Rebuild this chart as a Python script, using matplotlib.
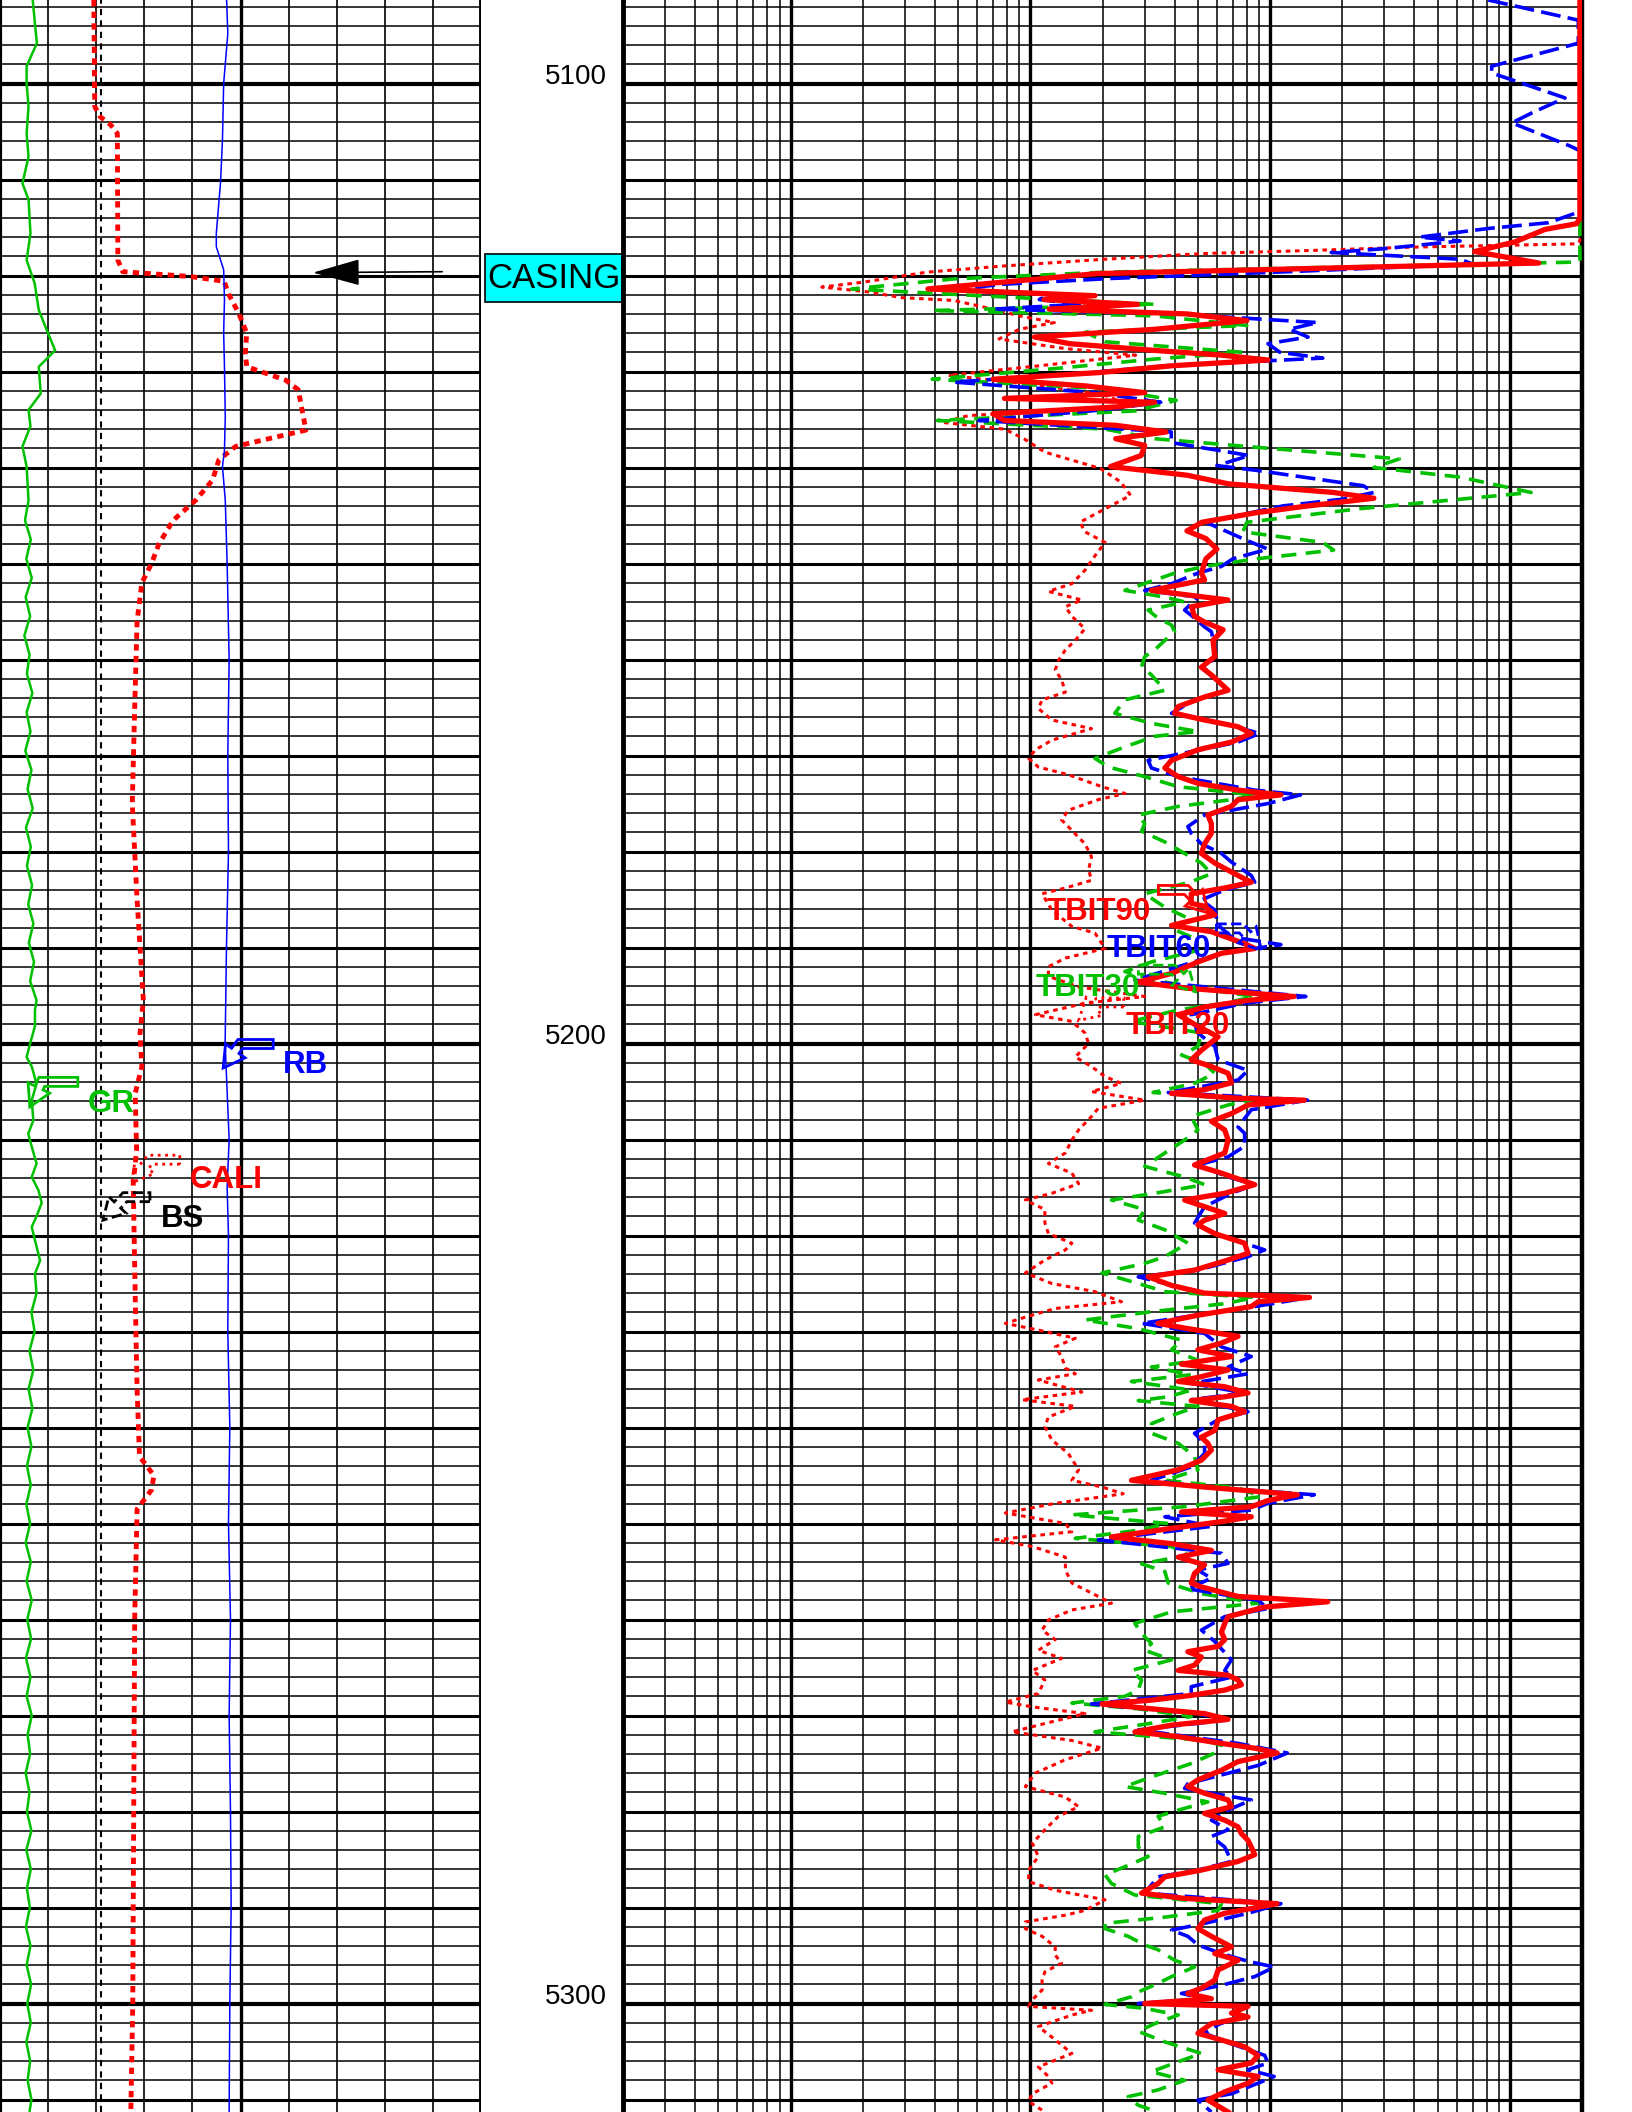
"""Resistivity log plot: GR/CALI/BS/RB track, depth track, TBIT array resistivity track."""
import numpy as np
import matplotlib
matplotlib.use('Agg')
import matplotlib.pyplot as plt
from matplotlib.patches import Polygon, Rectangle
from matplotlib.transforms import IdentityTransform

plt.rcParams['font.family'] = ['Liberation Sans', 'DejaVu Sans']

TOP, BOTTOM = 5091.3, 5311.3
DEPTH_LABELS = [5100, 5200, 5300]
BIT_SIZE = 8.1

# track 1 curves: (depth ft, value)
GR = [(5091.3, 10.2), (5093.4, 10.8), (5095.8, 11.5), (5098.2, 8.3), (5100.0, 8.3),
      (5102.4, 8.9), (5105.2, 8.3), (5107.6, 8.9), (5110.4, 7.0), (5112.1, 8.9),
      (5115.6, 9.5), (5118.4, 8.3), (5120.8, 10.8), (5123.6, 12.1), (5125.7, 14.6),
      (5127.8, 17.2), (5129.5, 12.1), (5132.3, 12.7), (5134.0, 8.9), (5135.7, 9.5),
      (5137.8, 7.0), (5139.9, 8.3), (5143.4, 8.9), (5145.5, 7.8), (5147.5, 9.6),
      (5149.5, 8.2), (5151.5, 9.9), (5153.5, 8.0), (5155.5, 9.4), (5157.5, 7.6),
      (5159.5, 9.2), (5161.5, 8.4), (5163.5, 10.1), (5165.5, 8.3), (5167.5, 9.5),
      (5169.5, 7.9), (5171.5, 9.8), (5173.5, 8.6), (5175.5, 10.2), (5177.5, 8.1),
      (5179.5, 9.6), (5181.5, 8.4), (5183.5, 10.0), (5185.5, 8.8), (5187.5, 10.4),
      (5189.5, 9.0), (5191.5, 10.6), (5193.5, 9.4), (5195.5, 11.4), (5196.5, 10.9),
      (5198.2, 10.9), (5200.0, 9.4), (5201.4, 8.3), (5202.4, 9.9), (5204.2, 11.4),
      (5205.9, 9.9), (5208.0, 10.4), (5209.4, 8.8), (5210.75, 9.9), (5212.5, 11.4),
      (5213.9, 9.9), (5215.3, 12.0), (5216.6, 13.0), (5218.0, 11.4), (5219.1, 9.9),
      (5220.5, 10.9), (5222.6, 12.5), (5224.0, 10.9), (5226.0, 11.4), (5228.0, 9.8),
      (5230.0, 10.8), (5232.0, 9.2), (5234.0, 10.4), (5236.0, 8.9), (5238.0, 10.1),
      (5240.0, 8.6), (5242.0, 9.8), (5244.0, 8.4), (5246.0, 9.6), (5248.0, 8.2),
      (5250.0, 9.4), (5252.0, 8.0), (5254.0, 9.6), (5256.0, 8.3), (5258.0, 9.9),
      (5260.0, 8.5), (5262.0, 9.7), (5264.0, 8.1), (5266.0, 9.5), (5268.0, 8.3),
      (5270.0, 9.9), (5272.0, 8.6), (5274.0, 9.4), (5276.0, 8.0), (5278.0, 9.2),
      (5280.0, 8.4), (5282.0, 9.8), (5284.0, 8.2), (5286.0, 9.6), (5288.0, 8.4),
      (5290.0, 9.3), (5292.0, 8.1), (5294.0, 9.5), (5296.0, 8.3), (5298.0, 9.7),
      (5300.0, 8.5), (5302.0, 9.6), (5304.0, 8.2), (5306.0, 9.4), (5308.0, 8.6),
      (5310.0, 9.8), (5311.3, 9.2)]
CALI = [(5091.3, 7.95), (5102.4, 7.97), (5103.45, 8.08), (5104.3, 8.3), (5105.2, 8.44),
        (5118.4, 8.45), (5119.6, 8.55), (5120.1, 9.95), (5120.6, 10.66), (5121.9, 10.75),
        (5123.9, 10.96), (5126.0, 11.13), (5128.1, 11.1), (5129.5, 11.13), (5130.9, 11.94),
        (5131.9, 12.2), (5134.0, 12.28), (5136.1, 12.36), (5137.1, 11.5), (5137.8, 10.9),
        (5139.2, 10.55), (5141.3, 10.42), (5143.4, 10.07), (5145.5, 9.6), (5148.0, 9.3),
        (5150.0, 9.15), (5152.0, 8.95), (5156.0, 8.85), (5165.0, 8.8), (5175.0, 8.75),
        (5185.0, 8.85), (5195.5, 8.98), (5199.0, 8.91), (5202.4, 8.95), (5205.2, 8.81),
        (5211.1, 8.84), (5214.6, 8.77), (5226.0, 8.81), (5236.0, 8.85), (5243.0, 8.9),
        (5245.0, 9.2), (5246.5, 9.15), (5248.5, 8.85), (5260.0, 8.8), (5280.0, 8.78),
        (5300.0, 8.76), (5311.3, 8.72)]
RB = [(5091.3, 169.6), (5094.8, 170.5), (5100.0, 167.4), (5105.9, 166.5), (5110.4, 165.0),
      (5115.6, 161.9), (5117.0, 161.9), (5119.4, 167.4), (5122.5, 168.0), (5126.0, 167.4),
      (5129.5, 168.0), (5134.7, 168.6), (5138.2, 168.0), (5139.9, 166.5), (5143.4, 168.6),
      (5150.0, 170.0), (5160.0, 171.5), (5170.0, 170.5), (5180.0, 171.0), (5190.0, 169.5),
      (5200.0, 168.5), (5205.0, 170.0), (5210.0, 171.5), (5215.0, 170.0), (5220.0, 171.0),
      (5230.0, 170.5), (5240.0, 172.0), (5250.0, 171.0), (5260.0, 172.5), (5270.0, 171.5),
      (5280.0, 172.5), (5290.0, 173.0), (5300.0, 172.0), (5311.3, 171.5)]

# track 2 array resistivity, ohm.m
TBIT90 = [(5091.3, 1960), (5114.0, 1960), (5114.6, 1900), (5115.2, 1400), (5116.5, 1050),
          (5117.5, 714), (5118.7, 1320), (5119.8, 19), (5121.4, 3.74), (5122.1, 18.6),
          (5122.5, 11.4), (5123.0, 28), (5123.5, 12), (5124.0, 45), (5124.7, 80),
          (5125.6, 33), (5126.4, 10.4), (5127.1, 14.6), (5127.8, 33), (5128.3, 63),
          (5128.8, 98), (5129.4, 39), (5130.1, 19.6), (5130.8, 7.0), (5131.5, 17),
          (5132.2, 30), (5132.8, 7.8), (5133.2, 33), (5133.7, 22.7), (5134.4, 7.0),
          (5135.1, 7.8), (5135.6, 22.7), (5136.3, 36.8), (5137.0, 22.7), (5137.7, 30),
          (5138.75, 29), (5139.9, 21.6), (5140.8, 45), (5141.7, 67), (5142.6, 184),
          (5143.2, 271), (5144.0, 144), (5144.7, 88), (5145.7, 52), (5146.6, 45),
          (5147.4, 54), (5148.5, 60), (5149.5, 54), (5151.0, 51.7), (5151.7, 53.3),
          (5152.8, 32), (5153.8, 66.7), (5154.5, 47), (5155.5, 48.4), (5156.1, 53.3),
          (5156.9, 63.7), (5158.0, 57.8), (5159.7, 58.8), (5160.8, 51.7), (5161.6, 56.9),
          (5163.2, 66.8), (5163.9, 53.3), (5164.9, 41.4), (5165.6, 40.0), (5166.3, 53.3),
          (5167.0, 73.5), (5167.7, 83.5), (5168.6, 69.0), (5169.4, 50.0), (5170.5, 38.8),
          (5171.3, 36.4), (5172.2, 41.4), (5172.9, 50.0), (5173.6, 73.5), (5174.1, 111),
          (5174.6, 73.5), (5175.3, 69), (5176.2, 55), (5177.1, 56.9), (5178.1, 56.9),
          (5179.2, 53.3), (5180.2, 51.7), (5181.2, 58.8), (5182.5, 73.5), (5183.2, 83.5),
          (5183.8, 64.7), (5184.4, 46.9), (5185.4, 46.9), (5185.7, 53.3), (5186.6, 58.8),
          (5187.7, 38.8), (5188.35, 56.9), (5189.6, 78.3), (5190.1, 86.3), (5190.6, 62.7),
          (5191.5, 50.0), (5192.7, 38.8), (5193.6, 28.2), (5194.25, 45.4), (5195.1, 126),
          (5195.5, 80.9), (5196.2, 53.3), (5197.0, 41.4), (5198.2, 50.0), (5199.3, 60.7),
          (5200.7, 51.7), (5201.7, 46.9), (5202.4, 56.9), (5203.1, 66.8), (5204.1, 69),
          (5204.8, 53.3), (5205.2, 38.8), (5205.7, 73.5), (5205.9, 139), (5206.4, 80.9),
          (5207.3, 69), (5208.1, 56.9), (5209.0, 64.7), (5210.05, 66.8), (5211.4, 64.7),
          (5212.65, 48.4), (5213.5, 62.7), (5214.7, 86.3), (5215.6, 64.7), (5216.3, 44.0),
          (5217.0, 53.3), (5217.7, 64.7), (5218.4, 53.3), (5218.9, 50), (5219.8, 58.8),
          (5220.8, 78.3), (5221.85, 80.9), (5222.55, 66.8), (5223.6, 48.4), (5224.3, 31),
          (5225.2, 38.8), (5226.0, 53.3), (5226.45, 146), (5226.9, 89.1), (5227.4, 83.5),
          (5228.3, 50), (5229.15, 34.1), (5229.7, 45.4), (5230.5, 73.5), (5231.2, 62.7),
          (5231.9, 50), (5232.6, 69), (5233.4, 42.7), (5234.0, 66.8), (5234.7, 51.7),
          (5235.2, 41.4), (5235.75, 64.7), (5236.4, 80.9), (5236.8, 64.7), (5237.2, 46.9),
          (5237.8, 69), (5238.35, 78.3), (5239.2, 60.7), (5240.3, 58.8), (5241.0, 51.7),
          (5241.65, 55), (5242.35, 56.9), (5243.4, 51.7), (5244.4, 41.4), (5245.5, 26.4),
          (5246.2, 53.3), (5247.0, 130), (5247.6, 98.1), (5248.25, 83.5), (5248.8, 42.7),
          (5249.3, 83.5), (5249.8, 62.7), (5250.5, 38.8), (5251.4, 21.8), (5252.1, 38.8),
          (5252.8, 56.9), (5253.5, 41.4), (5254.3, 53.3), (5255.2, 48.4), (5256.2, 46.9),
          (5256.6, 51.7), (5257.6, 73.5), (5258.15, 174), (5258.7, 95), (5259.7, 66.8),
          (5260.4, 64.7), (5261.3, 62.7), (5262.1, 64.7), (5262.8, 60.7), (5263.35, 45.4),
          (5263.9, 51.7), (5264.75, 48.4), (5265.3, 41.4), (5265.8, 66.8), (5266.3, 73.5),
          (5266.8, 75.9), (5267.35, 64.7), (5267.9, 46.9), (5268.4, 32), (5268.8, 19.9),
          (5269.3, 32), (5269.8, 53.3), (5270.4, 66.8), (5271.0, 38.8), (5271.7, 27.3),
          (5272.2, 41.4), (5272.9, 62.7), (5273.4, 86.3), (5273.9, 107), (5274.8, 73.5),
          (5275.7, 62.7), (5276.7, 50), (5277.4, 45.4), (5278.1, 53.3), (5278.8, 66.8),
          (5279.5, 69), (5280.2, 53.3), (5280.9, 64.7), (5281.6, 73.5), (5282.3, 75.9),
          (5283.0, 80.9), (5283.7, 83.5), (5284.5, 86.3), (5285.2, 73.5), (5286.1, 51.7),
          (5286.8, 36.4), (5287.5, 34.1), (5288.5, 29.1), (5289.05, 44), (5289.6, 107),
          (5290.1, 83.5), (5290.6, 64.7), (5291.3, 53.3), (5292.2, 50), (5293.0, 56.9),
          (5294.1, 69), (5294.8, 58.8), (5295.5, 73.5), (5296.5, 60.7), (5297.55, 58.8),
          (5298.4, 51.7), (5298.95, 45.4), (5299.5, 56.9), (5300.0, 30), (5300.3, 80.9),
          (5301.0, 69), (5301.4, 80.9), (5302.1, 56.9), (5303.1, 50), (5303.8, 62.7),
          (5304.5, 78.3), (5305.4, 89.1), (5306.2, 83.5), (5306.9, 60.7), (5307.6, 89.1),
          (5308.3, 80.9), (5309.2, 64.7), (5310.05, 55), (5311.3, 66.8)]
TBIT60 = [(5091.3, 813), (5093.4, 1930), (5095.8, 1930), (5098.2, 840), (5098.9, 840),
          (5101.5, 1700), (5103.0, 1250), (5104.1, 1020), (5106.5, 1780), (5107.0, 1960),
          (5113.0, 1960), (5113.4, 1930), (5114.5, 1450), (5115.1, 813), (5116.0, 420),
          (5116.4, 620), (5117.2, 300), (5117.6, 180), (5118.3, 620), (5118.8, 700),
          (5119.6, 120), (5120.3, 22), (5120.9, 7.8), (5121.4, 5.0), (5122.0, 12),
          (5122.5, 10.9), (5123.0, 16), (5123.5, 7.0), (5124.0, 40), (5124.9, 158),
          (5125.6, 120), (5126.4, 144), (5127.1, 98), (5128.0, 110), (5128.6, 166),
          (5129.4, 37), (5130.1, 18), (5131.1, 4.8), (5132.2, 18.6), (5133.2, 35),
          (5134.0, 20), (5135.1, 6.1), (5136.3, 38.7), (5137.4, 38.7), (5138.75, 82),
          (5139.8, 60), (5140.3, 88), (5141.9, 245), (5142.6, 271), (5143.3, 200),
          (5144.0, 113), (5145.7, 54), (5147.6, 80), (5148.5, 98), (5149.5, 70),
          (5150.3, 62.7), (5151.0, 50), (5152.1, 38.8), (5152.8, 30), (5153.5, 50),
          (5154.85, 44), (5155.4, 46.9), (5156.6, 53.3), (5157.1, 56.9), (5158.7, 58.8),
          (5159.7, 58.8), (5161.1, 53.3), (5163.2, 66.8), (5164.2, 48.4), (5165.6, 38.8),
          (5166.7, 64.7), (5167.7, 90.6), (5168.6, 73.5), (5169.8, 42.7), (5170.5, 31),
          (5171.3, 32), (5172.2, 41.4), (5173.6, 86.3), (5174.1, 134), (5175.0, 98),
          (5176.2, 53.3), (5177.4, 45.4), (5178.1, 46.9), (5179.2, 51.7), (5180.2, 62.7),
          (5181.1, 69), (5182.5, 83.5), (5183.2, 86.3), (5184.0, 64.7), (5185.05, 51.7),
          (5186.1, 58.8), (5187.65, 60.7), (5188.9, 69), (5189.7, 111), (5190.6, 62.7),
          (5192.0, 41.4), (5193.4, 27.3), (5195.1, 141), (5195.8, 78.3), (5197.0, 46.9),
          (5198.9, 50), (5200.3, 58.8), (5201.7, 60.7), (5202.8, 80.9), (5203.8, 73.5),
          (5205.1, 37.6), (5205.9, 143), (5206.9, 83.5), (5208.7, 73.5), (5209.35, 78.3),
          (5210.7, 78.3), (5211.8, 66.8), (5212.65, 50), (5213.9, 66.8), (5214.7, 86.3),
          (5215.6, 69), (5217.0, 53.3), (5218.7, 48.4), (5219.8, 58.8), (5221.5, 95),
          (5222.2, 80.9), (5223.6, 50), (5224.3, 28.2), (5226.0, 53.3), (5226.45, 146),
          (5227.4, 86.3), (5229.15, 29.1), (5230.2, 53.3), (5231.6, 62.7), (5232.6, 83.5),
          (5233.7, 66.8), (5234.4, 80.9), (5235.4, 46.9), (5236.4, 78.3), (5237.1, 46.9),
          (5238.35, 80.9), (5239.2, 60.7), (5240.6, 48.4), (5241.65, 53.3), (5242.7, 53.3),
          (5244.1, 46.9), (5244.8, 38.8), (5245.5, 32), (5246.2, 53.3), (5247.0, 153),
          (5247.9, 98), (5248.6, 83.5), (5249.3, 36.4), (5250.3, 56.9), (5251.7, 19.2),
          (5253.1, 62.7), (5254.15, 66.8), (5254.85, 50), (5255.7, 56.9), (5256.8, 45.4),
          (5258.0, 89.1), (5258.85, 98), (5259.7, 64.7), (5261.1, 51.7), (5262.3, 58.8),
          (5264.2, 69), (5265.3, 64.7), (5266.0, 69), (5267.0, 46.9), (5267.7, 46.9),
          (5268.8, 18), (5269.8, 50), (5270.5, 64.7), (5271.5, 28.2), (5272.9, 73.5),
          (5273.9, 118), (5275.2, 89.1), (5277.1, 45.4), (5277.6, 44), (5278.8, 83.5),
          (5279.85, 66.8), (5280.9, 56.9), (5281.9, 66.8), (5282.6, 56.9), (5283.7, 64.7),
          (5285.2, 69), (5286.1, 50), (5286.8, 34.1), (5288.5, 30), (5289.6, 111),
          (5290.6, 80.9), (5291.65, 53.3), (5292.35, 38.8), (5293.0, 45.4), (5293.9, 50),
          (5294.8, 62.7), (5295.6, 80.9), (5296.2, 104), (5297.2, 86.3), (5298.1, 62.7),
          (5298.95, 42.7), (5299.5, 53.3), (5300.0, 28.2), (5300.3, 73.5), (5301.4, 73.5),
          (5302.2, 60.7), (5303.1, 53.3), (5304.2, 69), (5305.4, 95), (5306.2, 98),
          (5306.9, 80.9), (5307.6, 104), (5308.3, 89.1), (5309.4, 69), (5310.05, 50),
          (5311.3, 56.9)]
TBIT30 = [(5091.3, 1960), (5118.5, 1960), (5118.6, 1900), (5119.65, 20.5), (5120.35, 4.8),
          (5121.4, 1.8), (5122.1, 6.1), (5123.0, 33), (5123.65, 3.9), (5124.2, 33),
          (5125.2, 80), (5125.9, 17), (5126.9, 20.5), (5128.0, 77), (5128.7, 33),
          (5129.7, 12.6), (5130.8, 3.9), (5131.8, 20.5), (5133.0, 40.6), (5134.1, 27.5),
          (5135.1, 4.1), (5136.0, 20.5), (5137.0, 33), (5137.9, 88.5), (5139.1, 346),
          (5140.0, 271), (5141.0, 621), (5142.6, 1227), (5143.3, 621), (5144.3, 234),
          (5145.7, 80), (5146.7, 77), (5147.8, 166), (5148.6, 184), (5149.5, 88.5),
          (5150.3, 53.3), (5151.0, 40), (5152.8, 24.8), (5153.5, 36.4), (5154.0, 44),
          (5154.85, 31), (5155.7, 34.1), (5156.4, 38.8), (5157.1, 40), (5158.0, 36.4),
          (5159.0, 33), (5159.7, 30), (5160.75, 29.1), (5161.6, 32), (5163.2, 36.4),
          (5164.2, 24.8), (5165.6, 22.5), (5166.65, 32), (5167.5, 50), (5168.0, 33),
          (5169.1, 24.8), (5170.3, 18.6), (5171.2, 21.2), (5172.2, 30), (5173.25, 41.4),
          (5174.1, 86.3), (5174.6, 69), (5175.3, 41.4), (5176.2, 28.2), (5177.1, 30),
          (5177.9, 29.1), (5179.0, 36.4), (5180.2, 44), (5181.2, 51.7), (5182.3, 56.9),
          (5183.15, 46.9), (5184.4, 30), (5185.8, 36.4), (5187.1, 46.9), (5188.0, 38.8),
          (5188.9, 46.9), (5190.3, 50), (5191.5, 32), (5192.5, 24.8), (5193.4, 33),
          (5194.25, 50), (5195.1, 86.3), (5195.8, 64.7), (5196.5, 41.4), (5197.7, 26.4),
          (5198.9, 51.7), (5200.3, 50), (5201.2, 42.7), (5202.1, 53.3), (5203.1, 58.8),
          (5204.15, 48.4), (5205.1, 32.5), (5205.9, 83.5), (5206.4, 66.8), (5207.6, 46.9),
          (5209.0, 50), (5210.05, 44), (5211.4, 36.4), (5212.8, 30), (5213.9, 44),
          (5214.7, 53.3), (5215.6, 33), (5216.3, 21.8), (5217.3, 30), (5218.4, 28.2),
          (5219.4, 36.4), (5220.8, 45.4), (5222.2, 36.4), (5222.9, 30), (5223.9, 19.9),
          (5225.0, 28.2), (5225.85, 36.4), (5226.45, 86.3), (5227.1, 64.7), (5227.9, 33),
          (5228.8, 16.9), (5229.7, 28.2), (5230.9, 42.7), (5231.9, 38.8), (5233.0, 50),
          (5233.7, 32), (5234.5, 46.9), (5235.2, 26.4), (5236.1, 46.9), (5236.8, 37.6),
          (5237.2, 28.2), (5237.8, 50), (5238.5, 41.4), (5239.6, 32), (5240.6, 32),
          (5241.65, 41.4), (5243.0, 48.4), (5244.4, 50), (5245.5, 36.4), (5246.3, 73.5),
          (5247.2, 91.7), (5248.25, 44), (5249.1, 14.9), (5250.0, 37.6), (5250.7, 28.2),
          (5251.55, 15.4), (5252.4, 38.8), (5253.3, 45.4), (5254.2, 29.1), (5255.0, 36.4),
          (5256.2, 37.6), (5257.3, 51.7), (5258.3, 89.1), (5259.2, 38.8), (5260.4, 27.3),
          (5261.45, 29.1), (5262.5, 32), (5263.2, 30), (5264.2, 38.8), (5265.3, 26.4),
          (5266.3, 29.1), (5267.35, 28.2), (5268.0, 24.8), (5268.7, 14.9), (5269.3, 28.2),
          (5270.1, 46.9), (5270.8, 32), (5271.7, 18.6), (5272.6, 53.3), (5273.1, 62.7),
          (5273.9, 58.8), (5275.0, 46.9), (5276.4, 32), (5277.4, 24.8), (5278.1, 36.4),
          (5279.0, 55), (5279.85, 41.4), (5280.5, 34.1), (5281.6, 36.4), (5282.6, 28.2),
          (5283.7, 28.2), (5284.7, 31), (5285.75, 24.8), (5286.6, 20.5), (5287.5, 21.8),
          (5288.7, 27.3), (5289.6, 62.7), (5290.3, 60.7), (5291.0, 36.4), (5291.65, 20.5),
          (5292.2, 20.5), (5293.0, 25.6), (5293.9, 30), (5294.4, 34.1), (5295.5, 40),
          (5296.2, 48.4), (5297.2, 38.8), (5297.9, 34.1), (5298.8, 28.2), (5299.3, 26.4),
          (5300.1, 20.5), (5300.5, 30), (5301.2, 41.4), (5302.1, 33), (5302.9, 28.2),
          (5304.0, 36.4), (5305.2, 51.7), (5306.2, 40), (5307.1, 32), (5308.0, 44),
          (5309.0, 34.1), (5309.7, 25.6), (5310.6, 28.2), (5311.3, 34.1)]
TBIT20 = [(5091.3, 1960), (5116.4, 1960), (5116.7, 1900), (5117.05, 381), (5117.4, 144),
          (5117.7, 54), (5118.3, 20.5), (5119.0, 7.8), (5119.65, 3.7), (5120.7, 2.0),
          (5121.2, 1.35), (5121.7, 2.1), (5122.3, 2.9), (5122.6, 4.8), (5123.5, 7.0),
          (5124.2, 9.0), (5124.9, 12.6), (5125.6, 9.0), (5126.6, 7.4), (5127.6, 13.9),
          (5128.3, 27.5), (5129.4, 10.9), (5130.4, 4.55), (5131.5, 11.5), (5132.5, 20.5),
          (5133.5, 26.2), (5134.6, 5.5), (5135.3, 4.3), (5136.0, 7.8), (5137.0, 9.4),
          (5138.4, 11.5), (5140.1, 19.6), (5141.5, 23.8), (5142.9, 26.2), (5144.3, 20.5),
          (5145.7, 16.1), (5146.7, 16.9), (5147.8, 20.5), (5149.2, 18.6), (5150.7, 16.9),
          (5152.1, 14.9), (5152.9, 11.9), (5153.8, 16.4), (5154.5, 14.0), (5155.5, 14.9),
          (5156.8, 16.9), (5158.0, 15.4), (5159.0, 14), (5160.1, 13.1), (5161.1, 12.7),
          (5162.1, 13.5), (5163.4, 14), (5164.2, 11.2), (5165.1, 10.8), (5166.3, 12.3),
          (5167.2, 18), (5168.4, 12.3), (5169.4, 10.5), (5170.3, 9.84), (5171.2, 10.8),
          (5172.0, 14.4), (5173.25, 19.9), (5173.95, 24.8), (5174.6, 19.2), (5175.7, 14.4),
          (5176.7, 13.5), (5177.8, 14.9), (5179.2, 16.9), (5180.55, 18), (5181.9, 17.5),
          (5183.0, 18), (5183.8, 14), (5184.4, 11.2), (5186.1, 12.3), (5187.8, 14.9),
          (5188.5, 18.6), (5190.1, 20.5), (5191.1, 14), (5192.0, 11.9), (5193.0, 11.9),
          (5194.1, 15.9), (5195.1, 30), (5195.8, 16.9), (5197.0, 10.5), (5197.7, 14.9),
          (5198.9, 16.9), (5200.0, 17.5), (5201.4, 15.4), (5202.4, 18), (5203.45, 20.5),
          (5204.15, 24), (5205.0, 18), (5205.9, 30), (5206.75, 19.2), (5207.6, 18),
          (5209.0, 15.9), (5210.05, 14.9), (5211.4, 14), (5212.5, 11.9), (5213.5, 14.9),
          (5214.6, 15.9), (5215.6, 12.3), (5216.3, 9.53), (5217.3, 11.5), (5218.7, 11.5),
          (5219.8, 11.9), (5220.8, 14.9), (5221.5, 14), (5222.55, 11.5), (5223.9, 9.53),
          (5225.0, 12.3), (5225.85, 18.6), (5226.9, 24), (5227.6, 12.7), (5228.5, 9.53),
          (5229.15, 7.87), (5229.85, 10.8), (5230.7, 15.4), (5231.6, 12.7), (5232.6, 13.5),
          (5233.8, 14), (5234.4, 15.4), (5235.05, 10.8), (5236.3, 16.4), (5237.1, 9.23),
          (5237.8, 15.4), (5238.9, 11.9), (5239.9, 11.5), (5241.3, 12.3), (5242.7, 14.4),
          (5244.4, 15.9), (5245.5, 14.9), (5246.2, 19.9), (5246.9, 24.4), (5247.9, 12.7),
          (5248.9, 7.87), (5250.0, 14), (5250.85, 14.9), (5251.7, 7.16), (5252.4, 10.2),
          (5253.5, 14), (5254.85, 14), (5256.2, 14.9), (5257.8, 19.9), (5258.3, 21.8),
          (5259.0, 14.9), (5260.05, 11.9), (5261.1, 11.2), (5262.1, 12.7), (5263.2, 10.8),
          (5264.05, 13.5), (5265.3, 10.2), (5266.3, 11.5), (5267.7, 10.8), (5268.6, 7.87),
          (5269.1, 10.2), (5269.8, 16.9), (5270.65, 12.3), (5271.7, 8.39), (5272.6, 14.9),
          (5273.4, 19.9), (5274.6, 14), (5276.0, 10.5), (5277.4, 9.53), (5278.5, 14),
          (5279.5, 15.9), (5280.5, 13.1), (5281.9, 11.5), (5283.3, 10.2), (5284.7, 10.8),
          (5286.1, 9.84), (5287.3, 9.84), (5288.2, 12.7), (5289.2, 20.5), (5290.3, 16.9),
          (5290.8, 14), (5291.5, 9.53), (5292.2, 9.53), (5293.0, 11.2), (5294.1, 12.7),
          (5294.95, 12.7), (5295.8, 13.5), (5296.7, 11.5), (5297.55, 11.2), (5298.6, 11.2),
          (5299.6, 10.2), (5300.3, 9.84), (5300.7, 18), (5301.2, 14.9), (5302.4, 10.8),
          (5303.5, 12.3), (5305.2, 14.9), (5306.6, 10.8), (5307.6, 11.9), (5308.3, 12.3),
          (5309.4, 10.2), (5310.2, 9.84), (5311.3, 11.5)]

RED, BLUE, GREEN = '#ff0000', '#0000ff', '#00c000'
W, H = 1632, 2112


def depth_grid(ax):
    for d in np.arange(5092, 5312, 2):
        lw = 3.0 if d % 100 == 0 else (2.2 if d % 10 == 0 else 1.1)
        ax.axhline(d, color='black', lw=lw, zorder=1)


def flag(fig, ax, tip, bend, tail, color, ls='-', h=4.5, hw=12.0, hl=21.0):
    # hollow bent arrow; bend/tail are pixel offsets from the tip (y up)
    t = np.array(ax.transData.transform(tip))
    b = t + np.array(bend, float)
    a = t + np.array(tail, float)
    d1 = (b - a) / np.linalg.norm(b - a)
    d2 = (t - b) / np.linalg.norm(t - b)
    n1 = np.array([-d1[1], d1[0]])
    n2 = np.array([-d2[1], d2[0]])
    hb = t - d2 * hl
    m = n1 + n2
    m = m / np.linalg.norm(m)
    m = m * h / np.dot(m, n1)
    pts = [a + h * n1, b + m, hb + h * n2, hb + hw * n2, t, hb - hw * n2,
           hb - h * n2, b - m, a - h * n1]
    fig.add_artist(Polygon(pts, closed=True, fc='none', ec=color, lw=2.0, ls=ls,
                           transform=IdentityTransform(), zorder=6))


fig = plt.figure(figsize=(W / 100, H / 100), dpi=100)
ax1 = fig.add_axes([0, 0, 481 / W, 1])
axd = fig.add_axes([481 / W, 0, 142 / W, 1])
ax2 = fig.add_axes([623 / W, 0, 959 / W, 1])

for ax in (ax1, axd, ax2):
    ax.set_ylim(BOTTOM, TOP)
    ax.set_xticks([])
    ax.set_yticks([])
    ax.spines['top'].set_visible(False)
    ax.spines['bottom'].set_visible(False)

# ---- track 1: linear grid of 10 divisions
ax1.set_xlim(0, 10)
for u in range(1, 10):
    ax1.axvline(u, color='black', lw=2.4 if u == 5 else 1.2, zorder=1)
depth_grid(ax1)
ax1.spines['left'].set_linewidth(3)
ax1.spines['right'].set_linewidth(3.5)

gr = np.array(GR)
cali = np.array(CALI)
rb = np.array(RB)
ax1.plot(gr[:, 1] / 15, gr[:, 0], color=GREEN, lw=1.8, zorder=3)
ax1.axvline(BIT_SIZE - 6, color='black', lw=1.5, ls=(0, (3, 2.5)), zorder=3)
ax1.plot(cali[:, 1] - 6, cali[:, 0], color=RED, lw=3.5, ls=(0, (1.3, 1.1)), zorder=3)
ax1.plot(rb[:, 1] / 36, rb[:, 0], color=BLUE, lw=1.1, zorder=3)

ax1.annotate('', xy=(6.45, 5119.7), xytext=(9.25, 5119.6),
             arrowprops=dict(arrowstyle='-|>,head_length=1.0,head_width=0.28',
                             color='black', lw=1.2, mutation_scale=30), zorder=5)

lab = dict(fontsize=22.5, fontweight='bold', va='center', ha='left', zorder=6)
ax1.text(5.88, 5202.2, 'RB', color=BLUE, **lab)
ax1.text(1.83, 5206.3, 'GR', color=GREEN, **lab)
ax1.text(3.95, 5214.2, 'CALI', color=RED, **lab)
ax1.text(3.35, 5218.3, 'BS', color='black', **lab)

# ---- depth track
axd.set_xlim(0, 1)
for s in ('left', 'right'):
    axd.spines[s].set_visible(False)
for d in DEPTH_LABELS:
    axd.text(0.887, d + 0.1, str(d), ha='right', va='baseline', fontsize=20)
axd.add_patch(Rectangle((0.028, 5117.75), 0.972, 5.0, fc='#00ffff', ec='black',
                        lw=1.2, zorder=5, clip_on=False))
axd.text(0.514, 5120.3, 'CASING', ha='center', va='center', fontsize=25, zorder=6)

# ---- track 2: logarithmic 0.2 - 2000
ax2.set_xscale('log')
ax2.set_xlim(0.2, 2000)
ax2.xaxis.set_major_locator(matplotlib.ticker.NullLocator())
ax2.xaxis.set_minor_locator(matplotlib.ticker.NullLocator())
for dec in (0.1, 1, 10, 100, 1000):
    for k in range(1, 10):
        v = k * dec
        if 0.2 < v < 2000:
            ax2.axvline(v, color='black', lw=2.4 if k == 1 else 1.1, zorder=1)
depth_grid(ax2)
ax2.spines['left'].set_linewidth(3.5)
ax2.spines['right'].set_linewidth(3.2)

t20 = np.array(TBIT20)
t30 = np.array(TBIT30)
t60 = np.array(TBIT60)
t90 = np.array(TBIT90)
ax2.plot(t20[:, 1], t20[:, 0], color=RED, lw=2.2, ls=(0, (1.5, 1.5)), zorder=3)
ax2.plot(t30[:, 1], t30[:, 0], color=GREEN, lw=2.6, ls=(0, (4.2, 2.6)), zorder=3)
ax2.plot(t60[:, 1], t60[:, 0], color=BLUE, lw=2.6, ls=(0, (5.5, 2.0)), zorder=3)
ax2.plot(t90[:, 1], t90[:, 0], color=RED, lw=3.8, zorder=4)

ax2.text(11.7, 5186.3, 'TBIT90', color=RED, **lab)
ax2.text(20.8, 5190.2, 'TBIT60', color=BLUE, **lab)
ax2.text(10.5, 5194.2, 'TBIT30', color=GREEN, **lab)
ax2.text(25.0, 5198.2, 'TBIT20', color=RED, **lab)

fig.canvas.draw()
flag(fig, ax1, (4.64, 5202.55), (17, 24), (50, 24), BLUE)
flag(fig, ax1, (0.62, 5206.6), (12, 25), (48, 25), GREEN)
flag(fig, ax1, (2.74, 5214.5), (18, 23), (48, 23), RED, ls=':')
flag(fig, ax1, (2.14, 5218.4), (22, 23), (47, 23), 'black', ls='--')
flag(fig, ax2, (55.3, 5186.4), (-22, 23), (-50, 23), RED)
flag(fig, ax2, (92.0, 5190.3), (-20, 22), (-45, 22), BLUE, ls='--')
flag(fig, ax2, (48.8, 5194.6), (-22, 22), (-57, 22), GREEN, ls='--')
flag(fig, ax2, (15.9, 5197.6), (20, 18), (45, 18), RED, ls=':')

fig.savefig('out.png', dpi=100)
